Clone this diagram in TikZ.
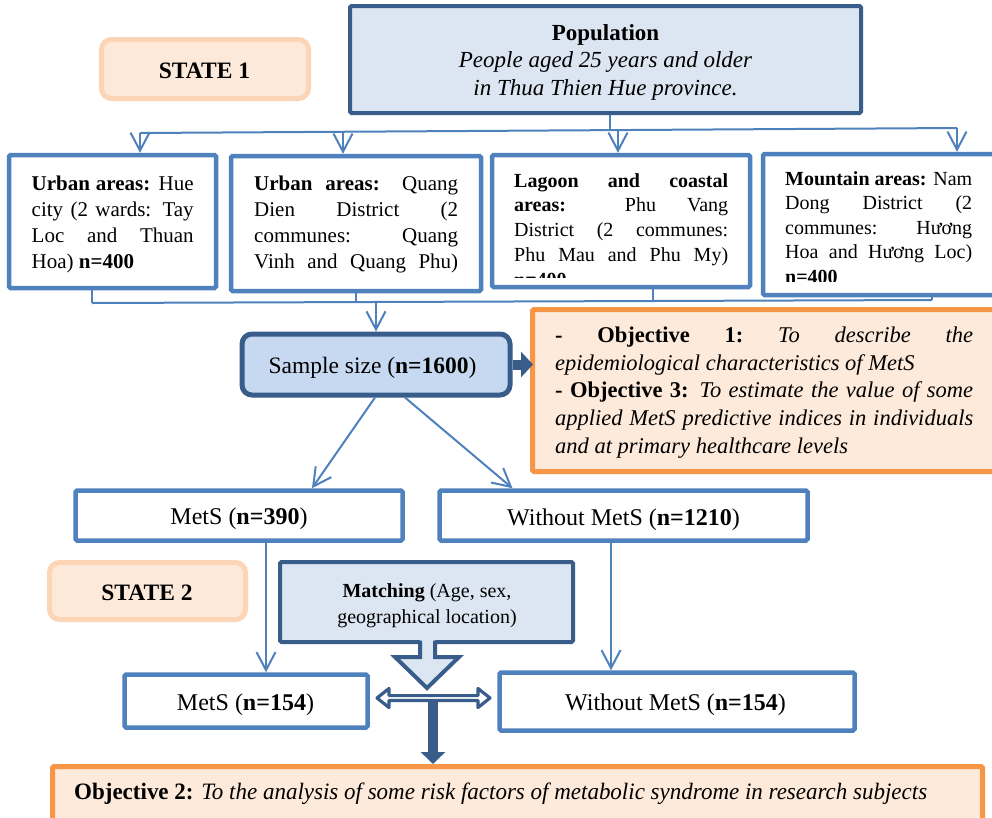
\documentclass[tikz,border=0pt]{standalone}
\usepackage{fontspec}
\setmainfont{Liberation Serif}
\usepackage{graphicx}
\usetikzlibrary{arrows.meta}
\definecolor{midblue}{HTML}{4F81BD}
\definecolor{darkblue}{HTML}{385D8A}
\definecolor{paleblue}{HTML}{DCE6F2}
\definecolor{sampleblue}{HTML}{C6D9F1}
\definecolor{peach}{HTML}{FDEADA}
\definecolor{orangeb}{HTML}{F79646}
\definecolor{stateborder}{HTML}{FBD5B5}
\definecolor{statefill}{HTML}{FDE9D9}
\newcommand\jusline[1]{\makebox[\linewidth][s]{#1}\par}
\newcommand\lefline[1]{\makebox[\linewidth][l]{#1}\par}
\newcommand\myfs[2]{\fontsize{#1}{#2}\selectfont}
\tikzset{
  areabox/.style={rectangle, draw=midblue, line width=4.5pt, fill=white, rounded corners=1.5pt, inner sep=0pt},
  popbox/.style={rectangle, draw=darkblue, line width=4pt, fill=paleblue, rounded corners=1.5pt, inner sep=0pt},
  statebox/.style={rectangle, draw=stateborder, fill=statefill, line width=5pt, rounded corners=10pt, inner sep=0pt},
  samplebox/.style={rectangle, draw=darkblue, line width=5pt, fill=sampleblue, rounded corners=10pt, inner sep=0pt},
  objbox/.style={rectangle, draw=orangeb, fill=peach, line width=5pt, rounded corners=1.5pt, inner sep=0pt},
  groupbox/.style={rectangle, draw=midblue, line width=4.5pt, fill=white, rounded corners=1.5pt, inner sep=0pt},
  matchbox/.style={rectangle, draw=darkblue, fill=paleblue, line width=4pt, rounded corners=1.5pt, inner sep=0pt},
  conn/.style={draw=midblue, line width=2pt},
  connarrow/.style={conn, -{Straight Barb[length=18pt,width=19pt,line width=2pt]}},
  thickarrow/.style={draw=darkblue, line width=10pt, -{Triangle[length=12pt,width=25pt]}},
  txt/.style={inner sep=0pt, anchor=base west},
  ctxt/.style={inner sep=0pt, anchor=base},
  statetxt/.style={ctxt, font=\myfs{23.5}{28}\bfseries},
  grouptxt/.style={ctxt, font=\myfs{24}{28}}
}
\begin{document}
\begin{tikzpicture}[x=1pt,y=-1pt]
\clip (0,0) rectangle (992,817);
\fill[white] (0,0) rectangle (992,817);

% Population
\node[popbox, minimum width=511pt, minimum height=107pt] (pop) at (605.5,59.5) {};
\node[ctxt, font=\myfs{23}{27.5}] (poptext) at (605.5,40) {\parbox[t]{480pt}{\centering\textbf{Population}\\\textit{People aged 25 years and older}\\\textit{in Thua Thien Hue province.}}};

% STATE 1
\node[statebox, minimum width=207pt, minimum height=59pt] (st1) at (205,69) {};
\node[statetxt] (st1t) at (204.5,78) {STATE 1};

% area boxes
\node[areabox, minimum width=207pt, minimum height=133pt] (b1) at (112.5,221.5) {};
\node[areabox, minimum width=250pt, minimum height=135pt] (b2) at (356,223.5) {};
\node[areabox, minimum width=258pt, minimum height=132pt] (b3) at (621,221) {};
\node[areabox, minimum width=250pt, minimum height=141pt] (b4) at (888,224.5) {};

\node[txt, font=\myfs{21}{26}] (b1t) at (31.5,190) {\parbox[t]{162pt}{\jusline{\textbf{Urban areas:} Hue}\jusline{city (2 wards: Tay}\jusline{Loc and Thuan}\lefline{Hoa) \textbf{n=400}}}};
\node[txt, font=\myfs{21}{26}] (b2t) at (254,190) {\parbox[t]{204pt}{\jusline{\textbf{Urban areas:} Quang}\jusline{Dien District (2}\jusline{communes: Quang}\jusline{Vinh and Quang Phu)}}};
\begin{scope}
\clip (496,158) rectangle (746,277);
\node[txt, font=\myfs{20}{24.8}] (b3t) at (514,187) {\parbox[t]{214pt}{\jusline{\textbf{Lagoon and coastal}}\jusline{\textbf{areas:} Phu Vang}\jusline{District (2 communes:}\jusline{Phu Mau and Phu My)}\lefline{\textbf{n=400}}}};
\end{scope}
\begin{scope}
\clip (767,157) rectangle (1000,281.5);
\node[txt, font=\myfs{20}{24.5}] (b4t) at (785,185) {\parbox[t]{187pt}{\jusline{\textbf{Mountain areas:} Nam}\jusline{Dong District (2}\jusline{communes: Hương}\jusline{Hoa and Hương Loc)}\lefline{\textbf{n=400}}}};
\end{scope}

% top bus
\coordinate (popdrop) at (610,130.1);
\coordinate (busL) at (140,133);
\coordinate (busR) at (957,128);
\coordinate (bus2) at (343,131.8);
\coordinate (bus3) at (618,130.1);
\draw[conn] (pop.south -| popdrop) -- (popdrop);
\draw[conn] (busL) -- (busR);
\draw[connarrow] (busL) -- (busL |- b1.north);
\draw[connarrow] (bus2) -- (bus2 |- b2.north);
\draw[connarrow] (bus3) -- (bus3 |- b3.north);
\draw[connarrow] (busR) -- (busR |- b4.north);

% Sample size
\node[samplebox, minimum width=268pt, minimum height=61pt] (ss) at (376,364.5) {};
\node[ctxt, font=\myfs{23.5}{28}] (sst) at (372.5,373.5) {Sample size (\textbf{n=1600})};

% lower bus
\coordinate (lbL) at (92,303);
\coordinate (lbR) at (932,300);
\coordinate (lb2) at (356,302.1);
\coordinate (lb3) at (653,301);
\coordinate (lbS) at (376,302);
\draw[conn] (b1.south -| lbL) -- (lbL);
\draw[conn] (b2.south) -- (lb2);
\draw[conn] (b3.south -| lb3) -- (lb3);
\draw[conn] (b4.south -| lbR) -- (lbR);
\draw[conn] (lbL) -- (lbR);
\draw[connarrow] (lbS) -- (ss.north);

% Objectives 1 and 3
\node[objbox, minimum width=480pt, minimum height=162pt] (obj13) at (772.5,390.5) {};
\node[txt, font=\myfs{22.5}{27.7}] (obj13t) at (555,342.5) {\parbox[t]{418pt}{\jusline{\textbf{-}\hfill\textbf{Objective}\hfill\textbf{1:}\hfill\textit{To}\hfill\textit{describe}\hfill\textit{the}}\lefline{\textit{epidemiological characteristics of MetS}}\jusline{\textbf{- Objective 3:} \textit{To estimate the value of some}}\jusline{\textit{applied MetS predictive indices in individuals}}\lefline{\textit{and at primary healthcare levels}}}};
\draw[thickarrow] (ss.east) -- ([xshift=3pt]ss.east -| obj13.west);

% groups
\node[groupbox, minimum width=327pt, minimum height=50pt] (m390) at (239,515.5) {};
\node[grouptxt] (m390t) at (239,524) {MetS (\textbf{n=390})};
\node[groupbox, minimum width=368pt, minimum height=50pt] (w1210) at (623.5,515.5) {};
\node[grouptxt] (w1210t) at (623.5,525) {Without MetS (\textbf{n=1210})};
\draw[connarrow] ([xshift=-1pt]ss.south) -- ([xshift=73pt]m390.north);
\draw[connarrow] ([xshift=29pt]ss.south) -- ([xshift=-111pt]w1210.north);

% STATE 2
\node[statebox, minimum width=196pt, minimum height=57pt] (st2) at (147.5,591) {};
\node[statetxt] (st2t) at (147,600) {STATE 2};

% Matching
\node[matchbox, minimum width=293pt, minimum height=80pt] (match) at (426.5,602) {};
\node[ctxt, font=\myfs{20}{26}] (matcht) at (427,597) {\parbox[t]{290pt}{\centering\textbf{Matching} (Age, sex,\\geographical location)}};
\fill[paleblue] (420,639) -- (420,657) -- (395,657) -- (427,688) -- (459,657) -- (435,657) -- (435,639) -- cycle;
\draw[darkblue, line width=4pt, line join=miter] (420,640.5) -- (420,657) -- (395,657) -- (427,688) -- (459,657) -- (435,657) -- (435,640.5);

% matched groups
\node[groupbox, minimum width=243pt, minimum height=53pt] (m154) at (246,701) {};
\node[grouptxt] (m154t) at (245.5,710) {MetS (\textbf{n=154})};
\node[groupbox, minimum width=355pt, minimum height=58pt] (w154) at (677,701.5) {};
\node[grouptxt] (w154t) at (675.5,710) {Without MetS (\textbf{n=154})};
\draw[connarrow] ([xshift=27pt]m390.south) -- ([xshift=20pt]m154.north);
\draw[connarrow] ([xshift=-12.5pt]w1210.south) -- ([xshift=-66pt]w154.north);

% Objective 2
\node[objbox, minimum width=930pt, minimum height=74pt] (obj2) at (517.5,803.5) {};
\node[txt, font=\myfs{23.5}{28}] (obj2t) at (74,799) {\resizebox{853pt}{\height}{\textbf{Objective 2:} \textit{To the analysis of some risk factors of metabolic syndrome in research subjects}}};

% T arrow and double arrow
\coordinate (tTop) at (433,700);
\draw[darkblue, line width=10pt, -{Triangle[length=12pt,width=24pt]}] (tTop) -- (tTop |- obj2.north);
\draw[darkblue, fill=white, line width=3.2pt, line join=round] (377,698) -- (389,688.5) -- (389,695.6) -- (478,695.6) -- (478,688.5) -- (490,698) -- (478,707.5) -- (478,700.4) -- (389,700.4) -- (389,707.5) -- cycle;
\end{tikzpicture}
\end{document}
